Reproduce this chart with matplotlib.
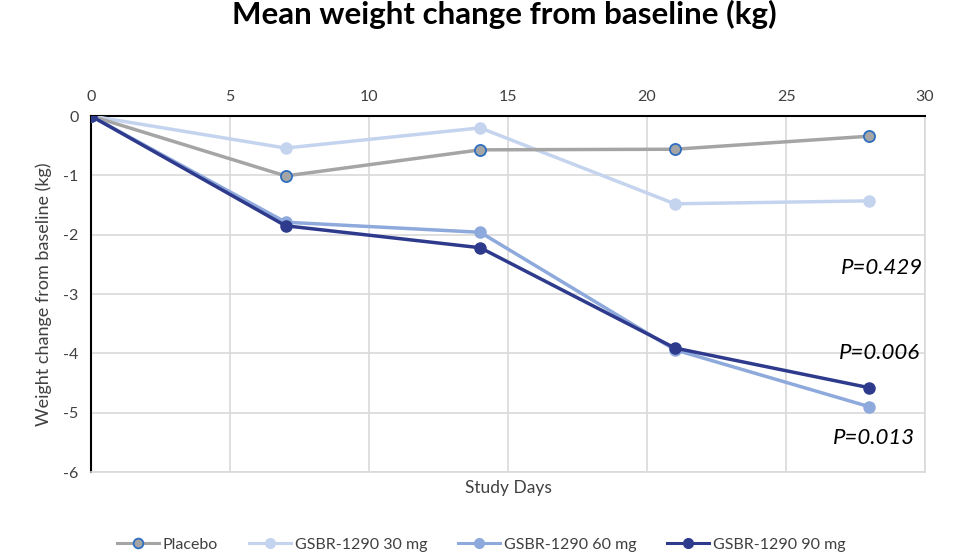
import matplotlib.pyplot as plt
from matplotlib.lines import Line2D

plt.rcParams['font.family'] = ['Lato', 'DejaVu Sans']
plt.rcParams['axes.unicode_minus'] = False

days = [0, 7, 14, 21, 28]
placebo = [0, -1.01, -0.57, -0.56, -0.34]
gsbr_30 = [0, -0.54, -0.20, -1.48, -1.43]
gsbr_60 = [0, -1.79, -1.96, -3.94, -4.90]
gsbr_90 = [0, -1.85, -2.22, -3.91, -4.58]
labels = ['Placebo', 'GSBR-1290 30 mg', 'GSBR-1290 60 mg', 'GSBR-1290 90 mg']
p_values = ['P=0.429', 'P=0.006', 'P=0.013']
p_y = [-2.56, -4.0, -5.42]
p_x = [28.45, 28.35, 28.15]

fig = plt.figure(figsize=(9.57, 5.54), dpi=100)
ax = fig.add_axes([0.0951, 0.148, 0.8715, 0.6426])

c_placebo = '#A5A5A5'
c_30 = '#C5D4EE'
c_60 = '#8EA9DB'
c_90 = '#2E3A8C'

ax.plot(days, gsbr_30, color=c_30, lw=2.5, marker='o', ms=8, mfc=c_30, mec=c_30, zorder=3)
ax.plot(days, placebo, color=c_placebo, lw=2.5, marker='o', ms=8, mfc=c_placebo, mec='#2F6FC0', mew=1.3, zorder=4)
ax.plot(days, gsbr_60, color=c_60, lw=2.5, marker='o', ms=8, mfc=c_60, mec=c_60, zorder=5)
ax.plot(days, gsbr_90, color=c_90, lw=2.5, marker='o', ms=8, mfc=c_90, mec=c_90, zorder=6)

ax.set_xlim(0, 30)
ax.set_ylim(-6, 0)
ax.set_xticks(range(0, 31, 5))
ax.set_yticks(range(-6, 1))
ax.xaxis.tick_top()
ax.tick_params(length=0, labelsize=11.5, colors='#404040', pad=9)
ax.grid(True, color='#D9D9D9', lw=1.2)
ax.set_axisbelow(True)
for s in ['right', 'bottom']:
    ax.spines[s].set_color('#D9D9D9')
    ax.spines[s].set_linewidth(1.2)
ax.spines['top'].set_color('black')
ax.spines['top'].set_linewidth(1.5)
ax.spines['left'].set_color('black')
ax.spines['left'].set_linewidth(1.5)

ax.set_ylabel('Weight change from baseline (kg)', fontsize=13, color='#404040', labelpad=8)
ax.set_xlabel('Study Days', fontsize=12.5, color='#404040', labelpad=6)

for x, y, t in zip(p_x, p_y, p_values):
    ax.text(x, y, t, fontsize=16, style='italic', ha='center', va='center', color='black')

fig.suptitle('Mean weight change from baseline (kg)', fontsize=22.5, fontweight='bold', x=0.527, y=1.0)

handles = [
    Line2D([], [], color=c_placebo, lw=2.2, marker='o', ms=7, mfc=c_placebo, mec='#2F6FC0', mew=1.3),
    Line2D([], [], color=c_30, lw=2.2, marker='o', ms=7, mfc=c_30, mec=c_30),
    Line2D([], [], color=c_60, lw=2.2, marker='o', ms=7, mfc=c_60, mec=c_60),
    Line2D([], [], color=c_90, lw=2.2, marker='o', ms=7, mfc=c_90, mec=c_90),
]
fig.legend(handles, labels, loc='center', bbox_to_anchor=(0.503, 0.017), ncol=4, frameon=False,
           fontsize=11.5, handlelength=2.6, handletextpad=0.25, columnspacing=1.95, labelcolor='#404040')

fig.savefig('out.png', dpi=100)
